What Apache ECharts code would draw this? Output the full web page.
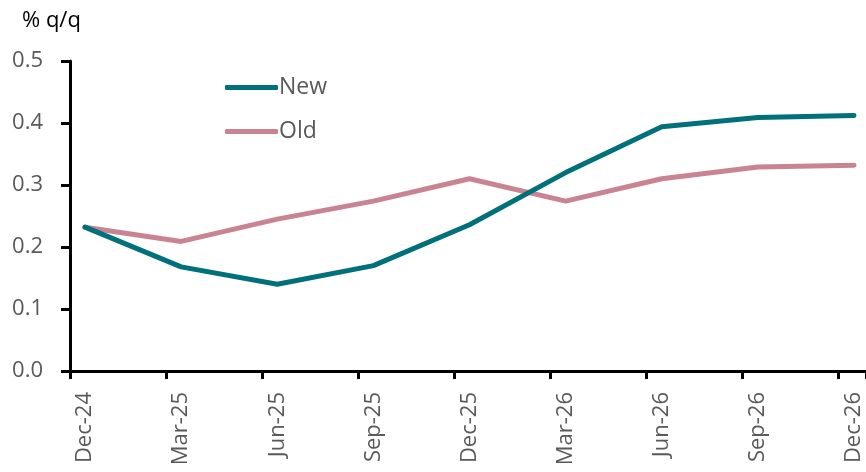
<!DOCTYPE html>
<html>
<head>
<meta charset="utf-8">
<title>% q/q</title>
<script src="https://cdn.jsdelivr.net/npm/echarts@6/dist/echarts.min.js"></script>
<style>
  html, body { margin: 0; padding: 0; background: #fff; }
  #chart { width: 866px; height: 472px; }
</style>
</head>
<body>
<div id="chart"></div>
<script>
  // quarters shown on the x axis
  const categories = ["Dec-24", "Mar-25", "Jun-25", "Sep-25", "Dec-25", "Mar-26", "Jun-26", "Sep-26", "Dec-26"];
  // forecast paths, % q/q
  const newValues = [0.232, 0.168, 0.140, 0.170, 0.236, 0.320, 0.394, 0.409, 0.412];
  const oldValues = [0.232, 0.209, 0.245, 0.274, 0.310, 0.274, 0.310, 0.329, 0.332];
  const yTicks = { min: 0, max: 0.5, interval: 0.1 };

  const textGrey = "#595959";
  const font = "'Open Sans', 'DejaVu Sans', sans-serif";

  const chart = echarts.init(document.getElementById("chart"));

  chart.setOption({
    animation: false,
    title: {
      text: "% q/q",
      left: 17,
      top: 5,
      textStyle: { fontFamily: font, fontSize: 22, fontWeight: "normal", color: "#000" }
    },
    legend: {
      orient: "vertical",
      left: 220,
      top: 71,
      itemWidth: 53,
      itemHeight: 5,
      itemGap: 21,
      icon: "roundRect",
      textStyle: { fontFamily: font, fontSize: 23, color: textGrey, padding: [0, 0, 0, -4] },
      data: ["New", "Old"]
    },
    grid: [
      // grid carrying the axis lines and the quarter ticks
      { left: 70, right: 0, top: 61, bottom: 101 },
      // grid carrying the lines and labels (points sit mid-month, past each tick)
      { left: 85, right: 12, top: 61, bottom: 101 }
    ],
    xAxis: [
      {
        type: "value",
        gridIndex: 0,
        min: 0,
        max: 8.29,
        interval: 1,
        axisLine: { show: true, lineStyle: { color: "#000", width: 3 } },
        axisTick: { show: true, length: 8, lineStyle: { color: "#000", width: 3 } },
        splitLine: { show: false },
        axisLabel: { show: false }
      },
      {
        type: "category",
        gridIndex: 1,
        data: categories,
        boundaryGap: false,
        axisLine: { show: false },
        axisTick: { show: false },
        splitLine: { show: false },
        axisLabel: {
          rotate: 90,
          margin: 21,
          interval: 0,
          fontFamily: font,
          fontSize: 22,
          color: textGrey
        }
      }
    ],
    yAxis: [
      {
        type: "value",
        gridIndex: 0,
        min: yTicks.min,
        max: yTicks.max,
        interval: yTicks.interval,
        axisLine: { show: true, lineStyle: { color: "#000", width: 3 } },
        axisTick: { show: true, length: 9, lineStyle: { color: "#000", width: 3 } },
        splitLine: { show: false },
        axisLabel: {
          margin: 27,
          fontFamily: font,
          fontSize: 22,
          color: textGrey,
          formatter: (v) => v.toFixed(1)
        }
      },
      {
        type: "value",
        gridIndex: 1,
        min: yTicks.min,
        max: yTicks.max,
        show: false
      }
    ],
    series: [
      {
        name: "New",
        type: "line",
        xAxisIndex: 1,
        yAxisIndex: 1,
        data: newValues,
        symbol: "none",
        color: "#00707b",
        lineStyle: { width: 5, color: "#00707b", cap: "round" },
        z: 3
      },
      {
        name: "Old",
        type: "line",
        xAxisIndex: 1,
        yAxisIndex: 1,
        data: oldValues,
        symbol: "none",
        color: "#c98393",
        lineStyle: { width: 5, color: "#c98393", cap: "round" },
        z: 2
      }
    ]
  });

  window.addEventListener("resize", () => chart.resize());
</script>
</body>
</html>
